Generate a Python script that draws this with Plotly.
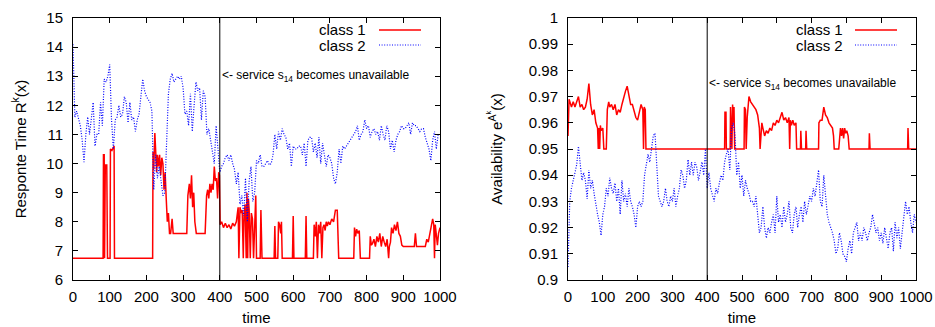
import plotly.graph_objects as go

# ---------------- data: left panel (response time) ----------------
resp1_points = [
    (0, 6.75), (82, 6.75), (83, 10.3), (85, 10.3), (86, 6.75), (88, 9.95), (92, 9.95), (94, 6.75),
    (101, 6.75), (102, 10.5), (106, 10.45), (110, 10.55), (112, 10.6), (113, 6.75), (217, 6.75),
    (218, 10.4), (220, 9.8), (223, 11.05), (225, 10.4), (228, 9.7), (230, 10.3), (233, 9.9),
    (236, 10.3), (239, 9.6), (242, 10.2), (245, 10.0), (248, 9.1), (251, 9.7), (254, 8.8),
    (257, 8.0), (260, 8.3), (263, 7.6), (266, 7.6), (270, 8.1), (273, 7.6), (310, 7.6),
    (313, 8.9), (317, 9.3), (320, 8.8), (323, 9.6), (326, 8.5), (329, 9.0), (332, 8.0),
    (336, 7.6), (360, 7.6), (364, 8.9), (367, 9.1), (370, 8.8), (373, 9.3), (376, 9.0),
    (379, 9.3), (382, 9.1), (385, 9.9), (388, 9.4), (391, 9.5), (394, 8.8), (397, 9.7),
    (399, 9.6), (401, 7.9), (405, 8.0), (410, 7.8), (415, 7.95), (420, 7.8), (425, 7.9),
    (430, 7.75), (435, 7.95), (440, 7.85), (445, 8.0), (450, 8.5), (452, 6.75), (455, 8.5),
    (458, 8.3), (461, 8.4), (464, 6.75), (466, 8.2), (469, 8.6), (472, 6.75), (474, 9.0),
    (476, 6.75), (478, 8.8), (480, 8.4), (483, 6.75), (486, 8.3), (489, 8.1), (492, 6.75),
    (495, 8.2), (498, 8.9), (500, 6.75), (510, 6.75), (512, 8.4), (515, 6.75), (548, 6.75),
    (550, 7.85), (552, 6.75), (558, 6.75), (560, 8.0), (563, 7.9), (566, 7.6), (568, 8.0),
    (570, 6.75), (598, 6.75), (600, 8.2), (602, 6.75), (633, 6.75), (635, 8.2), (637, 6.75),
    (655, 6.75), (657, 7.9), (660, 7.5), (663, 8.0), (666, 6.75), (669, 7.9), (672, 7.6),
    (675, 8.0), (678, 6.75), (681, 7.8), (684, 7.9), (687, 7.7), (690, 8.0), (693, 7.85),
    (696, 8.0), (700, 7.9), (705, 8.1), (710, 8.0), (715, 8.4), (720, 8.4), (724, 6.75),
    (765, 6.75), (767, 7.8), (770, 7.5), (773, 7.75), (776, 7.6), (780, 7.7), (783, 6.75),
    (808, 6.75), (810, 7.5), (813, 7.2), (816, 7.25), (820, 7.4), (824, 7.15), (828, 7.5),
    (832, 7.3), (836, 7.6), (840, 7.15), (844, 7.5), (848, 7.3), (852, 7.15), (856, 7.4),
    (860, 6.75), (862, 7.15), (865, 7.3), (868, 7.8), (872, 7.6), (876, 7.9), (880, 7.7),
    (884, 8.0), (888, 7.6), (892, 7.5), (896, 7.2), (900, 7.15), (930, 7.15), (933, 7.6),
    (936, 7.15), (960, 7.15), (964, 7.4), (968, 7.3), (972, 7.6), (976, 7.8), (980, 8.1),
    (983, 7.9), (985, 6.75), (987, 7.9), (990, 7.5), (993, 7.2), (996, 7.6), (1000, 7.8),
]

resp2_t = list(range(0, 1001, 5))
resp2_v = [14.1, 11.6, 11.8, 11.5, 11.3, 10.8, 10.05, 11.0, 11.6, 11.0, 11.6, 12.1, 10.6, 11.0, 11.0,
           12.1, 11.3, 12.9, 12.8, 13.0, 13.4, 11.5, 10.5, 11.5, 11.6, 12.0, 11.6, 11.7, 12.3,
           12.1, 11.4, 12.1, 11.5, 11.6, 11.1, 11.5, 11.7, 12.2, 12.9, 12.5, 12.3, 12.2, 12.1,
           11.8, 9.1, 10.3, 9.5, 9.9, 9.3, 8.9, 9.0, 10.6, 12.4, 12.9, 13.1, 12.8, 12.9, 13.0,
           12.9, 13.0, 12.6, 11.7, 11.8, 11.3, 12.4, 11.1, 12.0, 12.8, 12.5, 12.6, 11.5, 12.5,
           12.3, 11.0, 11.2, 10.7, 10.4, 10.0, 11.3, 10.5, 9.7, 9.9, 10.0, 10.2, 10.3, 10.1, 10.3,
           10.0, 9.8, 9.3, 9.7, 8.6, 8.9, 8.2, 9.5, 8.0, 9.4, 9.9, 8.7, 9.0, 10.1, 10.0, 10.3,
           9.9, 9.9, 10.0, 10.1, 9.95, 10.0, 10.3, 11.0, 10.5, 11.1, 10.8, 11.2, 11.0, 10.9,
           10.5, 10.7, 9.9, 10.6, 10.5, 10.5, 10.6, 10.6, 10.3, 10.7, 9.9, 10.8, 10.9, 10.9,
           10.4, 10.7, 10.2, 10.9, 10.0, 10.7, 10.3, 9.9, 10.3, 10.2, 10.0, 9.5, 9.3, 9.7, 10.5,
           10.0, 10.6, 10.5, 10.6, 10.7, 10.8, 10.9, 11.0, 11.1, 11.3, 10.8, 11.0, 11.1, 11.5,
           11.2, 11.3, 10.9, 11.1, 11.2, 11.0, 11.1, 10.8, 11.3, 11.0, 10.8, 11.3, 11.1, 10.5,
           10.8, 10.4, 10.8, 11.0, 11.1, 11.3, 11.2, 11.2, 11.3, 11.4, 11.0, 11.4, 11.3, 11.3,
           11.2, 11.1, 11.2, 11.2, 10.9, 10.7, 10.5, 10.1, 10.8, 11.1, 10.5, 11.0]

# ---------------- data: right panel (availability) ----------------
avail1_points = [
    (0, 0.955), (3, 0.969), (10, 0.966), (15, 0.968), (20, 0.966), (25, 0.968), (30, 0.970),
    (35, 0.966), (40, 0.967), (45, 0.965), (50, 0.966), (55, 0.969), (60, 0.975), (65, 0.967),
    (70, 0.963), (75, 0.965), (80, 0.960), (85, 0.958), (87, 0.950), (89, 0.958), (91, 0.950),
    (93, 0.959), (95, 0.957), (100, 0.958), (103, 0.950), (110, 0.950), (113, 0.965),
    (117, 0.968), (120, 0.966), (125, 0.967), (130, 0.965), (135, 0.967), (140, 0.963),
    (145, 0.965), (150, 0.964), (155, 0.967), (160, 0.970), (165, 0.972), (170, 0.974),
    (175, 0.971), (180, 0.967), (185, 0.967), (190, 0.964), (195, 0.962), (200, 0.961),
    (205, 0.964), (210, 0.967), (215, 0.965), (217, 0.950), (219, 0.966), (222, 0.965),
    (224, 0.950), (450, 0.950), (451, 0.964), (454, 0.964), (455, 0.950), (466, 0.950),
    (467, 0.966), (471, 0.950), (473, 0.967), (475, 0.960), (477, 0.966), (479, 0.950),
    (506, 0.950), (507, 0.966), (510, 0.965), (512, 0.950), (515, 0.962), (520, 0.970),
    (525, 0.968), (530, 0.967), (535, 0.966), (540, 0.965), (545, 0.963), (550, 0.958),
    (552, 0.950), (554, 0.956), (557, 0.960), (560, 0.958), (565, 0.955), (570, 0.957),
    (575, 0.956), (580, 0.958), (585, 0.957), (590, 0.960), (595, 0.959), (600, 0.961),
    (605, 0.960), (610, 0.962), (615, 0.964), (620, 0.961), (625, 0.962), (630, 0.960),
    (635, 0.962), (637, 0.950), (639, 0.961), (642, 0.959), (646, 0.961), (650, 0.959),
    (655, 0.960), (657, 0.950), (668, 0.950), (669, 0.957), (671, 0.950), (683, 0.950),
    (684, 0.957), (686, 0.950), (720, 0.950), (721, 0.960), (725, 0.961), (730, 0.961),
    (735, 0.966), (740, 0.963), (745, 0.962), (750, 0.960), (755, 0.959), (760, 0.958),
    (763, 0.955), (765, 0.950), (778, 0.950), (780, 0.955), (783, 0.958), (786, 0.955),
    (789, 0.958), (792, 0.954), (795, 0.958), (798, 0.956), (801, 0.957), (805, 0.955),
    (808, 0.950), (865, 0.950), (866, 0.956), (868, 0.950), (976, 0.950), (977, 0.958),
    (979, 0.950), (1000, 0.950),
]

avail2_t = list(range(0, 1001, 5))
avail2_v = [0.905, 0.930, 0.935, 0.938, 0.940, 0.944, 0.951, 0.945, 0.938, 0.941, 0.938, 0.931,
            0.942, 0.935, 0.938, 0.933, 0.928, 0.925, 0.922, 0.917, 0.925, 0.928, 0.935, 0.932,
            0.939, 0.935, 0.933, 0.937, 0.930, 0.935, 0.925, 0.938, 0.930, 0.933, 0.928, 0.935,
            0.930, 0.928, 0.925, 0.920, 0.928, 0.930, 0.928, 0.930, 0.940, 0.945, 0.948, 0.945,
            0.950, 0.955, 0.956, 0.945, 0.932, 0.930, 0.928, 0.930, 0.935, 0.930, 0.928, 0.932,
            0.930, 0.935, 0.928, 0.932, 0.935, 0.942, 0.940, 0.935, 0.938, 0.946, 0.940, 0.945,
            0.940, 0.945, 0.943, 0.938, 0.942, 0.945, 0.940, 0.950, 0.935, 0.941, 0.935, 0.932,
            0.930, 0.935, 0.933, 0.937, 0.940, 0.938, 0.945, 0.948, 0.950, 0.942, 0.958, 0.960,
            0.955, 0.940, 0.945, 0.935, 0.940, 0.932, 0.938, 0.935, 0.933, 0.930, 0.930, 0.928,
            0.932, 0.925, 0.918, 0.920, 0.928, 0.920, 0.916, 0.920, 0.918, 0.922, 0.925, 0.918,
            0.932, 0.922, 0.925, 0.920, 0.928, 0.922, 0.925, 0.930, 0.920, 0.918, 0.925, 0.928,
            0.920, 0.925, 0.928, 0.922, 0.930, 0.925, 0.928, 0.932, 0.930, 0.935, 0.932, 0.938,
            0.942, 0.930, 0.928, 0.940, 0.932, 0.925, 0.922, 0.920, 0.918, 0.915, 0.910, 0.912,
            0.918, 0.915, 0.910, 0.909, 0.907, 0.912, 0.915, 0.910, 0.918, 0.920, 0.922, 0.915,
            0.918, 0.915, 0.920, 0.918, 0.915, 0.918, 0.920, 0.925, 0.922, 0.918, 0.920, 0.915,
            0.918, 0.914, 0.920, 0.915, 0.912, 0.918, 0.920, 0.911, 0.922, 0.916, 0.920, 0.912,
            0.918, 0.925, 0.930, 0.925, 0.928, 0.922, 0.918, 0.925, 0.922]

event_time = 400
x_ticks = list(range(0, 1001, 100))
left_ticks = list(range(6, 16))
right_ticks = [0.9, 0.91, 0.92, 0.93, 0.94, 0.95, 0.96, 0.97, 0.98, 0.99, 1.0]
right_tick_text = ["0.9", "0.91", "0.92", "0.93", "0.94", "0.95", "0.96", "0.97", "0.98", "0.99", "1"]

resp1_t = [p[0] for p in resp1_points]
resp1_v = [p[1] for p in resp1_points]
avail1_t = [p[0] for p in avail1_points]
avail1_v = [p[1] for p in avail1_points]

# ---------------- figure ----------------
RED = "#ff0000"
BLUE = "#0000ff"
FONT = "Liberation Sans, Arial, sans-serif"
BLUE_DASH = "1px,1.6px"

fig = go.Figure()
fig.add_trace(go.Scatter(x=resp1_t, y=resp1_v, mode="lines", name="class 1",
                         line=dict(color=RED, width=1.5), xaxis="x", yaxis="y"))
fig.add_trace(go.Scatter(x=resp2_t, y=resp2_v, mode="lines", name="class 2",
                         line=dict(color=BLUE, width=1.2, dash=BLUE_DASH), xaxis="x", yaxis="y"))
fig.add_trace(go.Scatter(x=avail1_t, y=avail1_v, mode="lines", name="class 1",
                         line=dict(color=RED, width=1.5), xaxis="x2", yaxis="y2"))
fig.add_trace(go.Scatter(x=avail2_t, y=avail2_v, mode="lines", name="class 2",
                         line=dict(color=BLUE, width=1.2, dash=BLUE_DASH), xaxis="x2", yaxis="y2"))

W, H = 935, 327
L, R, T, B = 73, 19, 18, 47
PW = W - L - R
PH = H - T - B

def px_x(px):
    return (px - L) / PW

def px_y(py):
    return (H - B - py) / PH

axis_common = dict(showline=True, linecolor="black", linewidth=1, mirror="allticks",
                   ticks="inside", ticklen=5, tickcolor="black", showgrid=False, zeroline=False,
                   automargin=False,
                   tickfont=dict(size=15, color="black", family=FONT))
title_font = dict(size=15, color="black", family=FONT)

fig.update_layout(
    width=W, height=H, margin=dict(l=L, r=R, t=T, b=B),
    paper_bgcolor="white", plot_bgcolor="white", showlegend=False,
    font=dict(family=FONT, size=15, color="black"),
    xaxis=dict(domain=[0, px_x(440)], range=[0, 1000], tickvals=x_ticks, ticklabelstandoff=3,
               title=dict(text="time", standoff=8, font=title_font), **axis_common),
    yaxis=dict(range=[6, 15], tickvals=left_ticks, ticklabelstandoff=6,
               title=dict(text="Responte Time R<sup>k</sup>(x)", standoff=16, font=title_font),
               **axis_common),
    xaxis2=dict(domain=[px_x(568), 1.0], range=[0, 1000], tickvals=x_ticks, anchor="y2",
                ticklabelstandoff=3,
                title=dict(text="time", standoff=8, font=title_font), **axis_common),
    yaxis2=dict(range=[0.9, 1.0], tickvals=right_ticks, ticktext=right_tick_text, anchor="x2",
                ticklabelstandoff=6,
                title=dict(text="Availability e<sup>A<sup>k</sup></sup>(x)", standoff=22,
                           font=title_font),
                **axis_common),
)

shapes = []
annotations = []
for xa, ya, yev, leg_text_px, leg_l, leg_r in [("x", "y", 13.0, 368, 379, 421),
                                               ("x2", "y2", 0.975, 845, 855, 897)]:
    shapes.append(dict(type="line", xref=xa, yref=f"{ya} domain", x0=event_time, x1=event_time,
                       y0=0, y1=1, line=dict(color="black", width=1)))
    annotations.append(dict(xref=xa, yref=ya, x=event_time, y=yev, xanchor="left",
                            yanchor="middle", showarrow=False,
                            text="<- service s<sub>14</sub> becomes unavailable",
                            font=dict(size=12, color="black", family=FONT)))
    for i, (lbl, col, dash) in enumerate([("class 1", RED, "solid"), ("class 2", BLUE, BLUE_DASH)]):
        py = 30 + 15 * i
        annotations.append(dict(xref="paper", yref="paper", x=px_x(leg_text_px), y=px_y(py),
                                xanchor="right", yanchor="middle", showarrow=False, text=lbl,
                                font=dict(size=15, color="black", family=FONT)))
        shapes.append(dict(type="line", xref="paper", yref="paper", x0=px_x(leg_l),
                           x1=px_x(leg_r), y0=px_y(py), y1=px_y(py),
                           line=dict(color=col, width=1.5 if dash == "solid" else 1.2, dash=dash)))

fig.update_layout(shapes=shapes, annotations=annotations)
fig.write_html("out.html", config={"displayModeBar": False},
               post_script="document.body.style.margin='0';")
